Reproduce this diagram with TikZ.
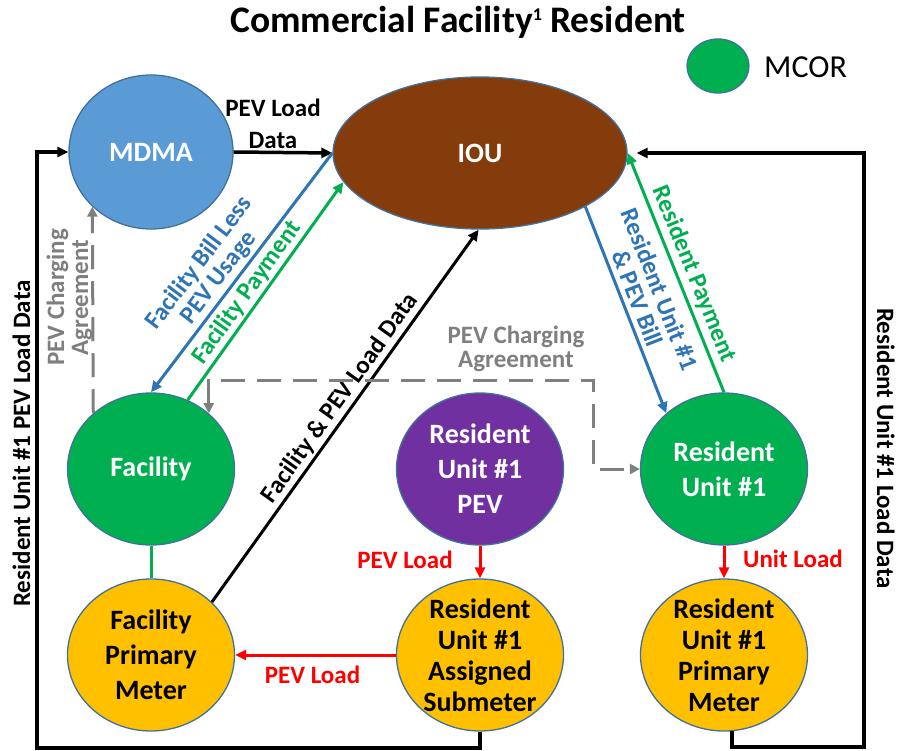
\documentclass[tikz,border=0pt]{standalone}
\usepackage{fontspec}
\setmainfont{Carlito}
\usetikzlibrary{shapes.geometric,arrows.meta,calc}
\definecolor{cblue}{HTML}{5B9BD5}
\definecolor{cbrown}{HTML}{843C0C}
\definecolor{cgreen}{HTML}{00B050}
\definecolor{cpurple}{HTML}{7030A0}
\definecolor{cyellow}{HTML}{FFC000}
\definecolor{cedge}{HTML}{41719C}
\definecolor{lblue}{HTML}{2E75B6}
\definecolor{cgray}{HTML}{7F7F7F}
\definecolor{cred}{HTML}{FF0000}
\begin{document}
\begin{tikzpicture}[x=1pt,y=-1pt,
  ent/.style={ellipse, draw=cedge, line width=1.3pt, inner sep=0pt, minimum width=167pt, minimum height=152pt},
  ntext/.style={font=\fontsize{28}{35}\selectfont\bfseries, align=center, inner sep=0pt},
  ntextb/.style={font=\fontsize{28}{31}\selectfont\bfseries, align=center, inner sep=0pt},
  elab/.style={font=\fontsize{25}{24}\selectfont\bfseries, align=center, inner sep=0pt},
  tip/.style={-{Triangle[length=11pt,width=10pt]}},
  blk/.style={draw=black, line width=3.5pt, tip},
  loopline/.style={draw=black, line width=4pt, tip},
  bl/.style={draw=lblue, line width=3pt, tip},
  gr/.style={draw=cgreen, line width=3pt, tip},
  rd/.style={draw=cred, line width=3pt, tip},
  gdash/.style={draw=cgray, line width=3pt, dash pattern=on 24pt off 12pt},
  gtip/.style={-{Triangle[length=10pt,width=10pt]}},
  gtips/.style={{Triangle[length=10pt,width=10pt]}-{Triangle[length=10pt,width=10pt]}}
]
\fill[white] (0,0) rectangle (902,751);
\useasboundingbox (0,0) rectangle (902,751);

% title and legend
\node[font=\fontsize{37.5}{40}\selectfont\bfseries, anchor=base, inner sep=0pt] (title) at (458,33) {Commercial Facility\raisebox{12pt}{\fontsize{18}{18}\selectfont 1} Resident};
\node[ellipse, draw=cedge, line width=1.3pt, fill=cgreen, inner sep=0pt, minimum width=62pt, minimum height=54pt] (leg) at (718,66) {};
\node[anchor=west, font=\fontsize{32}{38}\selectfont, inner sep=0pt] (legt) at (764,67) {MCOR};

% entities
\node[ent, fill=cblue, minimum width=164pt, minimum height=154pt, label={[ntext, text=white]center:MDMA}] (mdma) at (151,152) {};
\node[ent, fill=cbrown, minimum width=294pt, minimum height=152pt, label={[ntext, text=white]center:IOU}] (iou) at (480,153) {};
\node[ent, fill=cgreen, label={[ntext, text=white]center:Facility}] (fac) at (151,469) {};
\node[ent, fill=cyellow, label={[ntext, text=black]center:{Facility\\Primary\\Meter}}] (fpm) at (151,655) {};
\node[ent, fill=cpurple, label={[ntext, text=white]center:{Resident\\Unit \#1\\PEV}}] (pev) at (480,469) {};
\node[ent, fill=cyellow, label={[ntextb, text=black]center:{Resident\\Unit \#1\\Assigned\\Submeter}}] (sub) at (480,655) {};
\node[ent, fill=cgreen, label={[ntext, text=white]center:{Resident\\Unit \#1}}] (res) at (724,469) {};
\node[ent, fill=cyellow, label={[ntextb, text=black]center:{Resident\\Unit \#1\\Primary\\Meter}}] (rpm) at (724,655) {};

% coordinates for loops
\coordinate (lbl) at (37,748);
\coordinate (rbr) at (864,747);
\coordinate (gtop) at (593,380);
\coordinate (gbend) at (593,469);

% black connectors
\draw[blk] (mdma.east) -- (iou.west);
\node[elab, font=\fontsize{25}{32}\selectfont\bfseries] (lpev) at (273,124) {PEV Load\\Data};
\draw[loopline] (sub.south) |- (lbl) |- (mdma.west);
\draw[loopline, shorten >=9pt] (rpm.-84) |- (rbr) |- (iou.east);
\node[elab, rotate=90, anchor=base] (lleft) at (30,443.5) {Resident Unit \#1 PEV Load Data};
\node[elab, rotate=-90, anchor=base] (lright) at (877,448.5) {Resident Unit \#1 Load Data};
\draw[draw=black, line width=3pt, tip] (fpm.41) -- node[elab, sloped, above, pos=0.525, inner sep=2pt] (lfpl) {Facility \& PEV Load Data} (iou.-91);

% blue and green
\draw[bl] (iou.west) -- node[elab, sloped, above, pos=0.56, inner sep=3pt, text=lblue] (lbill) {Facility Bill Less\\PEV Usage} (fac.north);
\draw[gr] (fac.62) -- node[elab, sloped, above, pos=0.455, inner sep=2pt, text=cgreen] (lpay) {Facility Payment} (iou.192);
\draw[bl] (iou.-27) -- node[elab, sloped, above, pos=0.47, inner sep=5pt, text=lblue] (lrbill) {Resident Unit \#1\\\& PEV Bill} (res.136);
\draw[gr] (res.north) -- node[elab, sloped, above, pos=0.469, inner sep=4pt, text=cgreen] (lrpay) {Resident Payment} (iou.east);

% gray dashed
\draw[gdash, gtip] (fac.136) -- (mdma.-137);
\node[elab, text=cgray, rotate=90] (lagr1) at (69.5,297.5) {PEV Charging\\Agreement};
\draw[gdash, gtips] (fac.44) |- (gtop) -- (gbend) -- (res.west);
\node[elab, text=cgray] (lagr2) at (516,348.7) {PEV Charging\\Agreement};

% facility to meter
\draw[draw=cgreen, line width=3pt] (fac.south) -- (fpm.north);

% red
\draw[rd] (pev.south) -- (sub.north);
\draw[rd] (res.south) -- (rpm.north);
\draw[rd] (sub.west) -- (fpm.east);
\node[elab, text=cred, anchor=base] (lr1) at (405,568) {PEV Load};
\node[elab, text=cred, anchor=base] (lr2) at (793,567) {Unit Load};
\node[elab, text=cred, anchor=base] (lr3) at (312.5,683) {PEV Load};
\end{tikzpicture}
\end{document}
